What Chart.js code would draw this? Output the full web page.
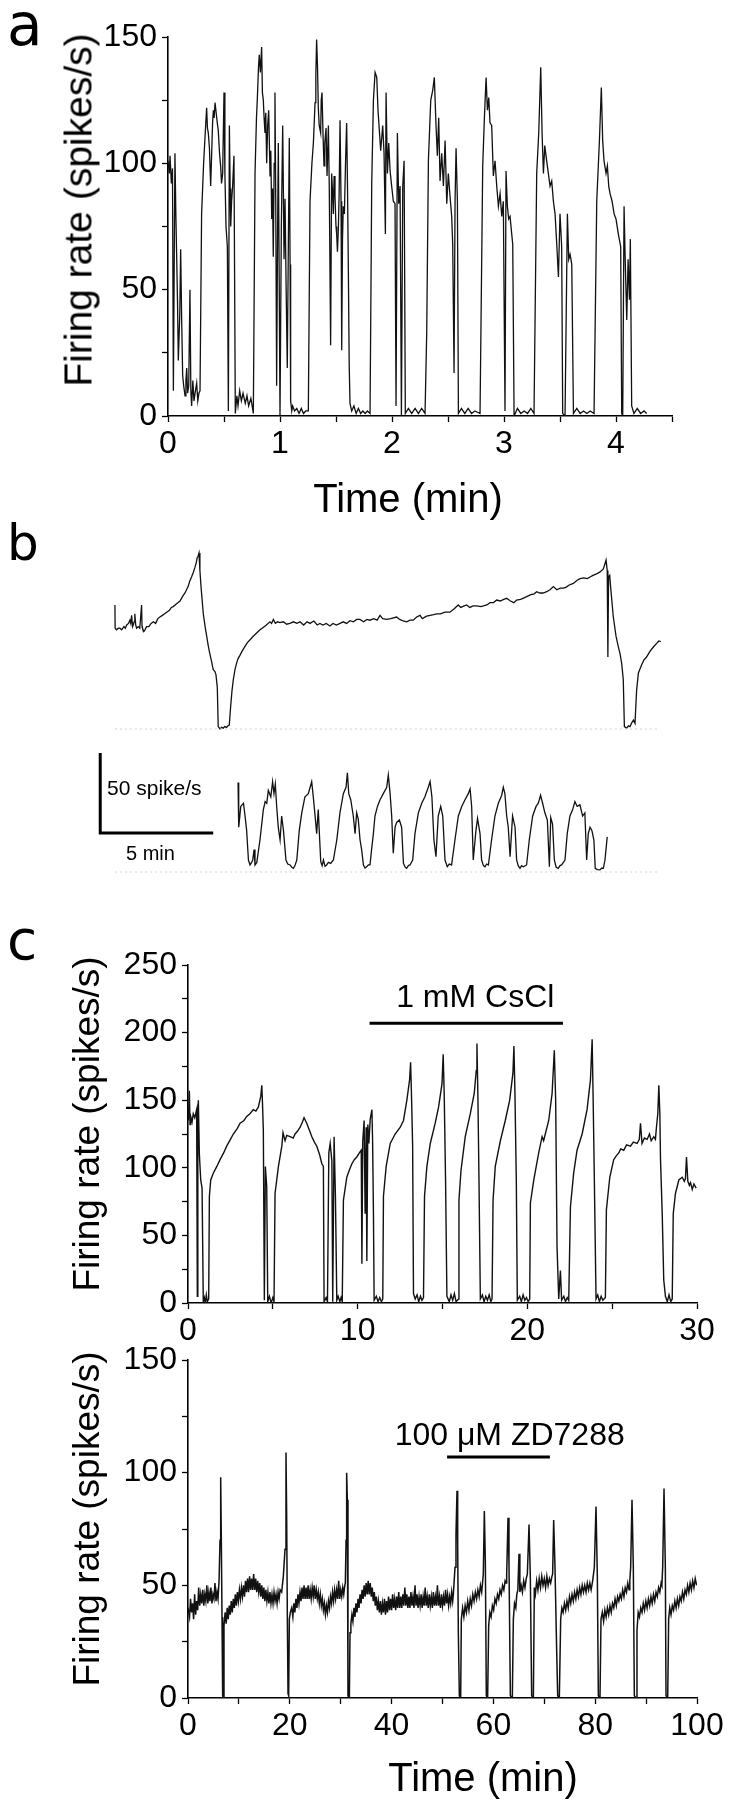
<!DOCTYPE html>
<html>
<head>
<meta charset="utf-8">
<script src="https://cdn.jsdelivr.net/npm/chart.js@4.4.1/dist/chart.umd.min.js"></script>
<style>
  body { margin: 0; background: #fff; }
  #page { position: relative; width: 740px; height: 1800px; overflow: hidden;
          font-family: "Liberation Sans", Arial, sans-serif; color: #000; }
  #page canvas { position: absolute; left: 0; }
  .panel { position: absolute; font-family: "DejaVu Sans", sans-serif; line-height: 1; }
  .title { position: absolute; white-space: nowrap; line-height: 1; transform: translate(-50%, -50%); }
  .title.vert { transform: translate(-50%, -50%) rotate(-90deg); }
</style>
</head>
<body>
<div id="page">
  <canvas id="chart-a" width="740" height="525" style="top:0px"></canvas>
  <canvas id="chart-b1" width="740" height="200" style="top:540px"></canvas>
  <canvas id="chart-b2" width="740" height="150" style="top:740px"></canvas>
  <canvas id="chart-c1" width="740" height="450" style="top:900px"></canvas>
  <canvas id="chart-c2" width="740" height="465" style="top:1335px"></canvas>

  <div class="panel" style="left:7px;top:-4px;font-size:58px">a</div>
  <div class="panel" style="left:7px;top:518px;font-size:50px">b</div>
  <div class="panel" style="left:7px;top:913px;font-size:55px">c</div>

  <div class="title vert" style="left:78px;top:210px;font-size:39px">Firing rate (spikes/s)</div>
  <div class="title" style="left:408px;top:498px;font-size:40px">Time (min)</div>
  <div class="title vert" style="left:86px;top:1124px;font-size:37px">Firing rate (spikes/s)</div>
  <div class="title vert" style="left:86px;top:1519px;font-size:37px">Firing rate (spikes/s)</div>
  <div class="title" style="left:483px;top:1777px;font-size:40px">Time (min)</div>
</div>
<script>
// panel a: [time (min), rate (spikes/s)]
const traceA = [
  [0, 101], [0.012, 96], [0.018, 103], [0.03, 92], [0.04, 98], [0.048, 10], [0.062, 104], [0.07, 80], [0.077, 64], [0.085, 45],
  [0.092, 22], [0.105, 40], [0.113, 66], [0.122, 38], [0.131, 16], [0.14, 12], [0.152, 8], [0.16, 14], [0.167, 19], [0.175, 9],
  [0.185, 12], [0.196, 50], [0.204, 10], [0.211, 4], [0.222, 14], [0.232, 6], [0.245, 10], [0.256, 13], [0.266, 6], [0.276, 9],
  [0.286, 10], [0.3, 80], [0.318, 100], [0.33, 110], [0.345, 122], [0.352, 114], [0.36, 112], [0.37, 106], [0.381, 91], [0.39, 104],
  [0.398, 116], [0.405, 121], [0.412, 118], [0.42, 124], [0.43, 120], [0.44, 116], [0.449, 113], [0.46, 104], [0.47, 99], [0.478, 92],
  [0.488, 96], [0.5, 128], [0.508, 96], [0.518, 75], [0.53, 67], [0.539, 2], [0.548, 115], [0.555, 90], [0.56, 75], [0.568, 85],
  [0.577, 91], [0.589, 103], [0.601, 1], [0.615, 8], [0.625, 4], [0.64, 10], [0.655, 6], [0.67, 9], [0.69, 5], [0.705, 8],
  [0.72, 4], [0.74, 7], [0.755, 3], [0.762, 1], [0.777, 96], [0.79, 118], [0.798, 126], [0.808, 138], [0.815, 143], [0.825, 136],
  [0.836, 146], [0.843, 128], [0.851, 125], [0.858, 118], [0.866, 112], [0.873, 120], [0.881, 100], [0.89, 115], [0.899, 121], [0.905, 108],
  [0.911, 95], [0.918, 105], [0.926, 78], [0.933, 90], [0.94, 63], [0.948, 100], [0.955, 128], [0.962, 85], [0.97, 12], [0.978, 70],
  [0.985, 108], [0.992, 60], [1.0, 0], [1.012, 75], [1.024, 115], [1.03, 90], [1.036, 62], [1.045, 86], [1.055, 50], [1.065, 19],
  [1.075, 70], [1.083, 110], [1.09, 60], [1.095, 6], [1.105, 2], [1.113, 4], [1.13, 2], [1.15, 3], [1.17, 1], [1.19, 3],
  [1.21, 1], [1.23, 2], [1.253, 2], [1.268, 85], [1.285, 100], [1.298, 108], [1.313, 124], [1.32, 135], [1.327, 149], [1.335, 138],
  [1.342, 122], [1.35, 115], [1.363, 112], [1.368, 125], [1.375, 128], [1.385, 110], [1.393, 99], [1.4, 108], [1.411, 114], [1.42, 95],
  [1.432, 115], [1.44, 90], [1.452, 28], [1.461, 96], [1.47, 88], [1.476, 80], [1.483, 95], [1.491, 87], [1.5, 75], [1.506, 72],
  [1.513, 65], [1.521, 74], [1.528, 88], [1.536, 117], [1.545, 85], [1.551, 26], [1.558, 70], [1.565, 83], [1.575, 80], [1.585, 100],
  [1.595, 116], [1.603, 90], [1.61, 59], [1.618, 20], [1.625, 5], [1.64, 2], [1.66, 4], [1.68, 1], [1.7, 3], [1.72, 1],
  [1.74, 2], [1.76, 1], [1.78, 2], [1.804, 1], [1.819, 92], [1.834, 125], [1.849, 136], [1.864, 134], [1.875, 121], [1.887, 113],
  [1.899, 105], [1.917, 115], [1.929, 104], [1.941, 72], [1.947, 128], [1.959, 96], [1.971, 108], [1.983, 97], [1.997, 91], [2.012, 85],
  [2.027, 84], [2.036, 4], [2.048, 112], [2.06, 84], [2.072, 91], [2.084, 0], [2.096, 91], [2.108, 101], [2.119, 1], [2.146, 3],
  [2.176, 1], [2.206, 3], [2.236, 1], [2.265, 3], [2.295, 1], [2.31, 33], [2.325, 101], [2.346, 125], [2.364, 129], [2.378, 134],
  [2.393, 115], [2.405, 103], [2.417, 118], [2.429, 93], [2.444, 104], [2.459, 91], [2.474, 109], [2.489, 84], [2.503, 96], [2.518, 87],
  [2.533, 79], [2.542, 68], [2.554, 17], [2.563, 85], [2.572, 106], [2.584, 85], [2.593, 1], [2.62, 3], [2.65, 1], [2.68, 3],
  [2.71, 1], [2.74, 2], [2.786, 1], [2.81, 99], [2.825, 118], [2.84, 134], [2.852, 121], [2.864, 126], [2.875, 116], [2.89, 115],
  [2.905, 95], [2.92, 101], [2.935, 91], [2.95, 83], [2.965, 88], [2.98, 79], [2.994, 85], [3.009, 2], [3.018, 97], [3.03, 83],
  [3.042, 78], [3.054, 79], [3.069, 72], [3.078, 68], [3.09, 0], [3.12, 3], [3.15, 1], [3.18, 2], [3.21, 1], [3.24, 3],
  [3.268, 1], [3.292, 96], [3.31, 112], [3.328, 138], [3.34, 112], [3.352, 96], [3.364, 107], [3.381, 101], [3.396, 96], [3.411, 91],
  [3.426, 93], [3.441, 85], [3.456, 80], [3.471, 68], [3.486, 55], [3.5, 80], [3.515, 67], [3.524, 1], [3.545, 0], [3.566, 80],
  [3.578, 62], [3.59, 64], [3.605, 60], [3.62, 1], [3.65, 3], [3.68, 1], [3.71, 2], [3.74, 1], [3.77, 2], [3.804, 1],
  [3.828, 85], [3.852, 109], [3.869, 130], [3.881, 109], [3.893, 101], [3.911, 96], [3.923, 99], [3.935, 91], [3.947, 88], [3.965, 85],
  [3.983, 80], [4.0, 78], [4.021, 72], [4.042, 67], [4.051, 1], [4.06, 0], [4.072, 83], [4.081, 64], [4.096, 38], [4.108, 62],
  [4.12, 46], [4.128, 70], [4.14, 4], [4.16, 1], [4.19, 3], [4.22, 1], [4.25, 2], [4.274, 1]
];

// panel b, upper trace: [time (min), rate (spikes/s)]
const traceB1 = [
  [0, 77.5], [0.01, 63], [0.07, 62], [0.15, 63], [0.22, 63], [0.3, 62], [0.4, 64], [0.46, 63], [0.52, 65], [0.6, 66],
  [0.66, 68], [0.7, 66], [0.74, 71], [0.78, 64], [0.81, 65], [0.85, 67], [0.88, 72], [0.92, 65], [0.96, 63], [1.03, 64],
  [1.1, 63], [1.18, 77.5], [1.2, 64], [1.22, 63], [1.28, 61], [1.33, 62], [1.4, 64], [1.5, 64], [1.6, 66], [1.7, 67],
  [1.8, 66], [1.9, 69], [1.99, 70], [2.1, 71], [2.2, 72], [2.29, 73], [2.4, 74], [2.5, 76], [2.58, 76.5], [2.7, 78],
  [2.8, 79], [2.88, 80], [3.0, 83], [3.1, 85], [3.2, 88], [3.24, 89], [3.3, 92], [3.39, 95], [3.47, 98], [3.54, 101],
  [3.6, 104], [3.64, 107], [3.68, 108], [3.72, 110], [3.76, 99], [3.81, 89], [3.91, 72], [4.0, 63], [4.06, 58], [4.13, 52],
  [4.2, 47], [4.28, 42], [4.35, 37], [4.42, 36], [4.47, 34], [4.53, 26], [4.57, 1.5], [4.65, 0], [4.72, 1], [4.79, 0.5],
  [4.86, 1.5], [4.94, 1], [5.0, 2], [5.06, 2.5], [5.12, 14], [5.18, 24], [5.24, 31], [5.31, 37], [5.38, 41], [5.45, 44],
  [5.53, 46], [5.64, 49], [5.75, 51.5], [5.86, 54], [5.97, 55.6], [6.12, 58], [6.27, 60], [6.42, 62], [6.56, 63.5], [6.7, 65],
  [6.86, 67], [6.93, 66], [7.01, 68.5], [7.1, 66], [7.2, 67], [7.3, 66.5], [7.45, 67], [7.6, 65.5], [7.74, 66], [7.9, 67],
  [8.05, 66], [8.19, 67], [8.35, 65], [8.5, 67], [8.63, 66], [8.8, 67.5], [8.95, 65], [9.07, 66], [9.2, 65], [9.35, 66],
  [9.51, 64.4], [9.65, 66], [9.8, 65], [9.96, 66], [10.1, 67], [10.25, 66], [10.4, 67.7], [10.55, 67], [10.7, 68.5], [10.84, 68.5],
  [11.0, 67], [11.15, 68.5], [11.28, 68], [11.45, 69], [11.6, 68], [11.73, 71], [11.85, 69], [12.02, 68.5], [12.2, 69], [12.46, 70],
  [12.6, 68.5], [12.75, 67.5], [12.91, 67], [13.05, 68], [13.2, 68], [13.35, 70], [13.5, 71], [13.6, 69], [13.79, 70.5], [13.95, 71],
  [14.1, 71.5], [14.23, 72], [14.4, 72], [14.6, 73], [14.82, 73], [15.0, 75], [15.19, 77.5], [15.3, 76], [15.45, 77], [15.56, 77.5],
  [15.7, 76], [15.85, 77], [16.0, 77], [16.2, 76.5], [16.45, 77.5], [16.6, 79], [16.75, 79], [16.89, 80.6], [17.05, 80], [17.2, 81],
  [17.33, 81.7], [17.5, 80], [17.65, 79], [17.77, 80.6], [17.95, 81], [18.1, 82], [18.22, 82.7], [18.4, 84], [18.55, 84.5], [18.66, 85.8],
  [18.8, 85], [18.95, 85], [19.1, 85.8], [19.25, 87], [19.4, 89], [19.55, 87], [19.7, 88], [19.84, 88], [19.95, 88.5], [20.1, 90],
  [20.28, 91], [20.45, 93], [20.58, 94], [20.75, 94.5], [20.9, 94], [21.02, 95], [21.15, 96], [21.31, 97], [21.45, 98], [21.61, 100],
  [21.73, 105.6], [21.78, 99], [21.81, 45], [21.84, 95], [21.89, 96], [21.93, 89], [22.05, 70], [22.17, 58], [22.27, 51.5], [22.35, 47],
  [22.42, 41], [22.49, 31], [22.54, 1.5], [22.64, 0.5], [22.72, 2], [22.79, 1.5], [22.87, 4], [22.94, 5.6], [23.01, 3.5], [23.08, 24],
  [23.16, 35], [23.3, 40], [23.4, 43], [23.52, 45], [23.65, 48], [23.75, 50], [23.87, 52], [23.97, 53.5], [24.06, 55], [24.15, 54.6]
];

// panel b, lower trace: [time (min), rate (spikes/s)]
const traceB2 = [
  [0, 56], [0.03, 28], [0.12, 41], [0.24, 43], [0.31, 35], [0.38, 26], [0.46, 7.5], [0.53, 4.4], [0.6, 6], [0.65, 7.5],
  [0.71, 14], [0.75, 4.4], [0.83, 6], [0.97, 20], [1.12, 39], [1.2, 44], [1.27, 43], [1.34, 51], [1.45, 47], [1.53, 56.5],
  [1.59, 49], [1.65, 55], [1.71, 41], [1.78, 28], [1.86, 20], [1.93, 35], [2.01, 26], [2.12, 7.5], [2.2, 5], [2.3, 4.4],
  [2.38, 3], [2.45, 2.3], [2.52, 4], [2.6, 7.5], [2.71, 26], [2.82, 37], [2.96, 47], [3.11, 49], [3.19, 53], [3.26, 56.5],
  [3.33, 47], [3.41, 35], [3.48, 24], [3.55, 39], [3.6, 24], [3.66, 6.5], [3.72, 4], [3.78, 7.5], [3.85, 3.5], [3.92, 4.4],
  [4.0, 6], [4.1, 5.4], [4.22, 7.5], [4.37, 20], [4.51, 37], [4.66, 49], [4.78, 53], [4.84, 62], [4.9, 49], [4.99, 45],
  [5.1, 35], [5.18, 24], [5.25, 37], [5.32, 33], [5.4, 20], [5.47, 14], [5.55, 4.4], [5.62, 2.5], [5.69, 3.3], [5.77, 4.4],
  [5.84, 4.4], [5.91, 14], [5.99, 24], [6.06, 35], [6.17, 41], [6.28, 45], [6.43, 49], [6.58, 53], [6.65, 60.6], [6.73, 49],
  [6.8, 35], [6.87, 11.7], [6.95, 28], [7.02, 31], [7.14, 32.5], [7.24, 28], [7.32, 5.4], [7.4, 3], [7.46, 2.3], [7.54, 4],
  [7.61, 4.4], [7.73, 7.5], [7.83, 24], [7.98, 37], [8.13, 43], [8.27, 47], [8.42, 53], [8.5, 56.5], [8.58, 47], [8.67, 20],
  [8.76, 9.6], [8.86, 35], [8.97, 41], [9.06, 35], [9.16, 7.5], [9.26, 3.3], [9.35, 5], [9.45, 4.4], [9.6, 20], [9.75, 35],
  [9.9, 41], [10.04, 45], [10.19, 49], [10.27, 52], [10.34, 41], [10.41, 7.5], [10.53, 26], [10.6, 33.5], [10.71, 24], [10.78, 7.5],
  [10.86, 4], [10.93, 3.3], [11.0, 5], [11.08, 4.4], [11.22, 20], [11.37, 35], [11.52, 43], [11.67, 48], [11.74, 53], [11.81, 49],
  [11.89, 35], [11.96, 28], [12.04, 9.6], [12.15, 35], [12.26, 28], [12.33, 7.5], [12.4, 4], [12.48, 2.3], [12.55, 4], [12.63, 3.3],
  [12.77, 4.4], [12.89, 20], [13.04, 35], [13.19, 41], [13.29, 43], [13.39, 48], [13.48, 43], [13.58, 37], [13.69, 32.5], [13.78, 3.3],
  [13.84, 34], [13.92, 30], [14.0, 7.5], [14.08, 3], [14.17, 2.3], [14.25, 4], [14.32, 4.4], [14.47, 7.5], [14.57, 24], [14.69, 35],
  [14.81, 39], [14.91, 44], [15.01, 41], [15.13, 42], [15.25, 35], [15.35, 37], [15.43, 7.5], [15.5, 24], [15.58, 28], [15.66, 26],
  [15.75, 20], [15.81, 2.3], [15.9, 1.5], [16.02, 1.3], [16.1, 2.5], [16.17, 2.3], [16.24, 7.5], [16.34, 22]
];

// panel c, 1 mM CsCl: [time (min), rate (spikes/s)]
const traceC1 = [
  [0.02, 135], [0.08, 157], [0.12, 132], [0.16, 138], [0.24, 134], [0.31, 140], [0.4, 137], [0.51, 143], [0.55, 5], [0.58, 140],
  [0.61, 150], [0.67, 110], [0.75, 91], [0.83, 85], [0.9, 1], [0.96, 4], [1.02, 0], [1.08, 6], [1.14, 1], [1.22, 3],
  [1.26, 79], [1.34, 91], [1.49, 96], [1.7, 101], [1.89, 106], [2.1, 111], [2.28, 116], [2.5, 121], [2.67, 125], [2.9, 129],
  [3.07, 133], [3.3, 135], [3.46, 138], [3.65, 140], [3.85, 143], [4.0, 142], [4.15, 145], [4.29, 153], [4.35, 161], [4.39, 148],
  [4.44, 128], [4.5, 2], [4.56, 101], [4.64, 86], [4.7, 1], [4.8, 5], [4.9, 0], [5.0, 4], [5.07, 1], [5.13, 81],
  [5.33, 101], [5.53, 116], [5.6, 126], [5.72, 120], [5.82, 124], [6.02, 123], [6.2, 122], [6.31, 125], [6.45, 127], [6.61, 130],
  [6.75, 134], [6.84, 137], [7.0, 133], [7.15, 128], [7.3, 123], [7.45, 119], [7.59, 116], [7.75, 110], [7.89, 103], [7.98, 101],
  [8.02, 1], [8.14, 4], [8.22, 1], [8.3, 111], [8.38, 118], [8.48, 105], [8.53, 1], [8.61, 123], [8.69, 79], [8.77, 2],
  [8.85, 5], [8.95, 1], [9.02, 4], [9.09, 1], [9.16, 76], [9.36, 93], [9.5, 98], [9.66, 103], [9.8, 106], [9.95, 108],
  [10.1, 111], [10.21, 113], [10.25, 29], [10.3, 120], [10.38, 135], [10.44, 66], [10.5, 130], [10.54, 31], [10.6, 132], [10.66, 118],
  [10.74, 136], [10.84, 143], [10.88, 120], [10.93, 66], [10.97, 2], [11.1, 5], [11.2, 1], [11.3, 4], [11.4, 1], [11.48, 3],
  [11.52, 79], [11.68, 101], [11.92, 118], [12.21, 125], [12.51, 130], [12.7, 135], [12.9, 150], [13.06, 165], [13.12, 178], [13.18, 150],
  [13.24, 116], [13.29, 7], [13.39, 3], [13.5, 6], [13.6, 1], [13.7, 5], [13.79, 2], [13.88, 4], [13.94, 79], [14.08, 101],
  [14.28, 118], [14.57, 133], [14.77, 145], [14.97, 162], [15.04, 184], [15.1, 155], [15.18, 91], [15.26, 5], [15.4, 1], [15.5, 6],
  [15.6, 2], [15.7, 7], [15.8, 1], [15.95, 3], [15.97, 76], [16.09, 98], [16.34, 123], [16.64, 140], [16.87, 155], [16.99, 172],
  [17.03, 192], [17.09, 150], [17.15, 91], [17.23, 3], [17.35, 6], [17.45, 1], [17.55, 5], [17.65, 2], [17.75, 6], [17.85, 1],
  [17.92, 3], [17.98, 76], [18.11, 101], [18.41, 120], [18.7, 135], [18.96, 150], [19.15, 170], [19.21, 190], [19.27, 155], [19.35, 91],
  [19.41, 2], [19.55, 5], [19.65, 1], [19.75, 6], [19.85, 2], [19.95, 4], [20.05, 1], [20.14, 3], [20.18, 74], [20.38, 91],
  [20.67, 111], [20.87, 123], [20.96, 120], [21.06, 125], [21.26, 135], [21.46, 155], [21.59, 187], [21.67, 150], [21.75, 42], [21.85, 3],
  [21.95, 24], [22.02, 2], [22.15, 5], [22.25, 1], [22.35, 4], [22.44, 2], [22.54, 71], [22.73, 96], [22.93, 113], [23.23, 125],
  [23.52, 143], [23.72, 165], [23.82, 195], [23.88, 150], [23.95, 91], [24.05, 3], [24.15, 6], [24.25, 1], [24.35, 5], [24.45, 2],
  [24.6, 4], [24.66, 69], [24.86, 93], [25.09, 106], [25.25, 109], [25.39, 111], [25.5, 114], [25.68, 113], [25.85, 117], [26.08, 116],
  [26.25, 119], [26.47, 118], [26.6, 121], [26.67, 133], [26.76, 118], [26.9, 122], [27.06, 121], [27.2, 125], [27.3, 120], [27.45, 123],
  [27.55, 121], [27.61, 130], [27.69, 140], [27.75, 161], [27.81, 140], [27.85, 106], [27.95, 66], [28.04, 17], [28.14, 5], [28.25, 1],
  [28.35, 6], [28.45, 1], [28.54, 3], [28.6, 66], [28.73, 81], [28.93, 91], [29.13, 93], [29.25, 90], [29.32, 92], [29.38, 108],
  [29.46, 90], [29.55, 87], [29.62, 89], [29.72, 84], [29.82, 88], [29.95, 85]
];

// panel c, 100 uM ZD7288: [time (min), rate (spikes/s)]
const traceC2 = [
  [0, 40], [0.3, 36], [0.5, 44], [0.7, 38], [0.9, 42], [1.1, 35], [1.3, 46], [1.5, 37], [1.7, 43], [1.9, 39],
  [2.1, 49], [2.3, 41], [2.5, 46], [2.7, 42], [2.9, 48], [3.1, 41], [3.3, 46], [3.5, 43], [3.7, 50], [3.9, 42],
  [4.1, 47], [4.3, 43], [4.5, 49], [4.7, 42], [4.9, 46], [5.1, 44], [5.3, 51], [5.5, 43], [5.7, 47], [5.9, 44],
  [6.1, 52], [6.29, 70], [6.42, 98], [6.55, 70], [6.68, 36], [6.81, 1], [6.94, 0], [7.07, 32], [7.3, 38], [7.5, 33],
  [7.7, 40], [7.9, 35], [8.1, 41], [8.3, 37], [8.5, 43], [8.7, 38], [8.9, 44], [9.1, 40], [9.3, 46], [9.5, 41],
  [9.7, 47], [9.9, 43], [10.1, 48], [10.3, 44], [10.5, 49], [10.7, 45], [10.9, 50], [11.1, 45], [11.3, 52], [11.5, 47],
  [11.7, 53], [11.9, 47], [12.1, 54], [12.3, 48], [12.5, 53], [12.7, 48], [12.9, 55], [13.1, 48], [13.3, 53], [13.5, 47],
  [13.7, 52], [13.9, 47], [14.1, 51], [14.3, 45], [14.5, 50], [14.7, 44], [14.9, 49], [15.1, 43], [15.3, 48], [15.5, 43],
  [15.7, 47], [15.9, 42], [16.1, 47], [16.3, 42], [16.5, 46], [16.7, 42], [16.9, 47], [17.1, 43], [17.3, 46], [17.5, 42],
  [17.7, 47], [17.9, 44], [18.1, 48], [18.4, 47], [18.73, 54], [19.06, 66], [19.25, 109], [19.38, 82], [19.52, 35], [19.65, 2],
  [19.78, 1], [19.91, 35], [20.1, 38], [20.37, 40], [20.6, 36], [20.8, 42], [21.0, 38], [21.2, 44], [21.4, 40], [21.6, 46],
  [21.8, 42], [22.0, 47], [22.2, 43], [22.4, 49], [22.6, 44], [22.8, 50], [23.0, 44], [23.2, 49], [23.4, 44], [23.6, 50],
  [23.8, 44], [24.0, 48], [24.2, 44], [24.4, 49], [24.6, 45], [24.8, 50], [25.0, 44], [25.2, 48], [25.4, 44], [25.6, 47],
  [25.8, 42], [26.0, 46], [26.2, 41], [26.4, 44], [26.6, 39], [26.8, 42], [27.0, 37], [27.2, 41], [27.4, 38], [27.6, 43],
  [27.8, 40], [28.0, 45], [28.2, 42], [28.4, 47], [28.6, 43], [28.8, 48], [29.0, 44], [29.2, 48], [29.4, 44], [29.6, 52],
  [29.8, 44], [30.0, 48], [30.2, 45], [30.4, 49], [30.6, 46], [30.8, 50], [30.91, 51], [31.05, 70], [31.17, 100], [31.3, 88],
  [31.43, 1], [31.7, 0], [31.83, 29], [32.0, 33], [32.2, 37], [32.4, 34], [32.6, 40], [32.8, 36], [33.0, 42], [33.2, 38],
  [33.4, 44], [33.6, 40], [33.8, 46], [34.0, 42], [34.2, 48], [34.4, 44], [34.6, 50], [34.8, 45], [35.0, 51], [35.2, 46],
  [35.4, 52], [35.6, 46], [35.8, 51], [36.0, 45], [36.2, 49], [36.4, 43], [36.6, 47], [36.8, 41], [37.0, 45], [37.2, 39],
  [37.4, 43], [37.6, 38], [37.8, 43], [38.0, 37], [38.2, 42], [38.4, 38], [38.6, 44], [38.8, 37], [39.0, 43], [39.2, 38],
  [39.4, 45], [39.6, 39], [39.8, 44], [40.0, 39], [40.2, 46], [40.4, 40], [40.6, 44], [40.8, 39], [41.0, 45], [41.2, 40],
  [41.4, 47], [41.6, 40], [41.8, 45], [42.0, 40], [42.2, 46], [42.4, 41], [42.6, 49], [42.8, 41], [43.0, 46], [43.2, 40],
  [43.4, 45], [43.6, 40], [43.8, 47], [44.0, 41], [44.2, 45], [44.4, 40], [44.6, 50], [44.8, 41], [45.0, 46], [45.2, 40],
  [45.4, 45], [45.6, 41], [45.8, 46], [46.0, 40], [46.2, 45], [46.4, 41], [46.6, 49], [46.8, 41], [47.0, 45], [47.2, 40],
  [47.4, 46], [47.6, 41], [47.8, 45], [48.0, 40], [48.2, 47], [48.4, 41], [48.6, 45], [48.8, 41], [49.0, 50], [49.2, 41],
  [49.4, 45], [49.6, 40], [49.8, 46], [50.0, 41], [50.2, 45], [50.4, 41], [50.6, 48], [50.8, 42], [51.0, 46], [51.2, 41],
  [51.4, 45], [51.6, 42], [51.8, 47], [52.0, 43], [52.13, 46], [52.46, 58], [52.65, 73], [52.85, 92], [52.98, 68], [53.11, 29],
  [53.31, 1], [53.57, 0], [53.7, 35], [53.95, 40], [54.2, 36], [54.45, 41], [54.7, 38], [54.95, 43], [55.2, 39], [55.45, 44],
  [55.7, 41], [55.95, 46], [56.2, 43], [56.45, 47], [56.7, 44], [56.95, 48], [57.2, 45], [57.45, 50], [57.7, 47], [57.9, 52],
  [58.02, 55], [58.22, 83], [58.42, 60], [58.61, 1], [58.87, 0], [59.07, 32], [59.3, 38], [59.55, 36], [59.8, 41], [60.05, 39],
  [60.3, 44], [60.55, 42], [60.8, 46], [61.05, 44], [61.3, 48], [61.55, 46], [61.8, 50], [62.05, 48], [62.3, 52], [62.5, 51],
  [62.61, 55], [62.87, 80], [63.06, 60], [63.33, 1], [63.72, 0], [63.92, 35], [64.15, 42], [64.4, 40], [64.6, 46], [64.8, 48],
  [65.03, 64], [65.2, 47], [65.45, 50], [65.7, 47], [65.95, 52], [66.2, 49], [66.45, 53], [66.67, 55], [67.0, 77], [67.26, 53],
  [67.52, 1], [67.85, 0], [68.04, 49], [68.25, 46], [68.5, 52], [68.75, 48], [69.0, 53], [69.25, 49], [69.5, 54], [69.75, 50],
  [70.0, 53], [70.25, 49], [70.5, 54], [70.75, 50], [71.0, 53], [71.25, 51], [71.5, 54], [71.64, 55], [71.84, 79], [72.1, 58],
  [72.43, 21], [72.63, 1], [72.95, 0], [73.22, 35], [73.45, 40], [73.7, 38], [73.95, 42], [74.2, 39], [74.45, 43], [74.7, 40],
  [74.95, 45], [75.2, 42], [75.45, 46], [75.7, 43], [75.95, 47], [76.2, 44], [76.45, 48], [76.7, 45], [76.95, 49], [77.2, 46],
  [77.45, 50], [77.7, 47], [77.95, 50], [78.2, 47], [78.45, 51], [78.7, 48], [78.95, 51], [79.2, 48], [79.5, 52], [79.83, 58],
  [80.16, 85], [80.42, 54], [80.62, 1], [80.94, 0], [81.14, 35], [81.4, 38], [81.65, 34], [81.9, 39], [82.15, 36], [82.4, 40],
  [82.65, 37], [82.9, 41], [83.15, 38], [83.4, 42], [83.65, 40], [83.9, 44], [84.15, 41], [84.4, 45], [84.65, 43], [84.9, 46],
  [85.15, 44], [85.4, 48], [85.65, 45], [85.9, 49], [86.15, 47], [86.4, 51], [86.65, 48], [86.8, 52], [86.97, 58], [87.23, 88],
  [87.49, 58], [87.69, 1], [88.02, 0], [88.21, 30], [88.45, 38], [88.7, 36], [88.95, 40], [89.2, 38], [89.45, 42], [89.7, 39],
  [89.95, 43], [90.2, 40], [90.45, 44], [90.7, 41], [90.95, 45], [91.2, 42], [91.45, 46], [91.7, 43], [91.95, 47], [92.2, 45],
  [92.45, 49], [92.7, 47], [92.95, 51], [93.1, 50], [93.26, 58], [93.52, 93], [93.78, 58], [93.91, 1], [94.24, 0], [94.43, 35],
  [94.65, 40], [94.9, 37], [95.15, 41], [95.4, 39], [95.65, 43], [95.9, 40], [96.15, 44], [96.4, 41], [96.65, 45], [96.9, 43],
  [97.15, 47], [97.4, 44], [97.65, 48], [97.9, 46], [98.15, 50], [98.4, 47], [98.65, 51], [98.9, 48], [99.15, 52], [99.4, 49],
  [99.65, 53], [99.93, 50]
];

// drug application bars: [start, end] in min, level in spikes/s
const cscBar = [10.7, 22.1];
const cscBarLevel = 207;
const zdBar = [50.9, 71.1];
const zdBarLevel = 107;

// panel b scale bar: corner [min, spikes/s] and lengths [5 min, 50 spike/s]
const scaleBarCorner = [-6.1, 24.4];
const scaleBarSize = [5, 50];
// zero-rate reference lines of panel b, [start, end] in min
const zeroLineB1 = [0, 23.98];
const zeroLineB2 = [-5.44, 18.67];

const TICK_FONT = { family: "Liberation Sans", size: 32 };

function toXY(pairs) {
  return pairs.map((p) => ({ x: p[0], y: p[1] }));
}

function traceSet(pairs, width) {
  return {
    data: toXY(pairs),
    borderColor: "#111",
    borderWidth: width || 1.3,
    pointRadius: 0,
    tension: 0,
    fill: false,
  };
}

function segmentSet(points, width, color, dash) {
  return {
    data: points.map((p) => ({ x: p[0], y: p[1] })),
    borderColor: color || "#000",
    borderWidth: width,
    borderDash: dash || [],
    pointRadius: 0,
    tension: 0,
    fill: false,
    clip: false,
  };
}

// writes short labels at data positions
const textLabels = {
  id: "textLabels",
  afterDatasetsDraw(chart, args, opts) {
    const { ctx, scales } = chart;
    (opts.items || []).forEach((it) => {
      ctx.save();
      ctx.font = it.font;
      ctx.fillStyle = "#000";
      ctx.textAlign = it.align || "center";
      ctx.textBaseline = "alphabetic";
      ctx.fillText(it.text, scales.x.getPixelForValue(it.x), scales.y.getPixelForValue(it.y));
      ctx.restore();
    });
  },
};

function axis(min, max, step, every, size, dim, pad) {
  return {
    type: "linear",
    min: min,
    max: max,
    ticks: {
      stepSize: step,
      autoSkip: false,
      maxRotation: 0,
      padding: pad,
      color: "#000",
      font: TICK_FONT,
      callback: (v) => (Math.abs(v / every - Math.round(v / every)) < 1e-6 ? v : ""),
    },
    grid: {
      drawOnChartArea: false,
      drawTicks: true,
      tickLength: 6,
      tickWidth: 1.3,
      color: "#000",
    },
    border: { display: true, color: "#000", width: 1.6 },
    afterFit: (scale) => {
      scale[dim] = size;
    },
  };
}

function baseOptions(padding, scales, items) {
  return {
    responsive: false,
    animation: false,
    devicePixelRatio: 1,
    events: [],
    layout: { padding: padding },
    scales: scales,
    plugins: {
      legend: { display: false },
      tooltip: { enabled: false },
      textLabels: { items: items || [] },
    },
  };
}

function hiddenAxis(min, max) {
  return { type: "linear", min: min, max: max, display: false };
}

function createPanelA() {
  new Chart(document.getElementById("chart-a"), {
    type: "line",
    data: { datasets: [traceSet(traceA, 1.3)] },
    options: baseOptions(
      { left: 0, right: 68, top: 37, bottom: 59 },
      {
        x: axis(0, 4.5, 0.5, 1, 50, "height", 3),
        y: axis(0, 150, 25, 50, 168, "width", 5),
      }
    ),
    plugins: [textLabels],
  });
}

function createPanelB() {
  new Chart(document.getElementById("chart-b1"), {
    type: "line",
    data: {
      datasets: [
        segmentSet([[zeroLineB1[0], 0], [zeroLineB1[1], 0]], 1, "#d0d0d0", [2, 3]),
        traceSet(traceB1, 1.3),
      ],
    },
    options: baseOptions(
      { left: 100, right: 79, top: 5, bottom: 3 },
      { x: hiddenAxis(-0.66, 24.16), y: hiddenAxis(-5, 115) }
    ),
    plugins: [textLabels],
  });

  const cx = scaleBarCorner[0];
  const cy = scaleBarCorner[1];
  new Chart(document.getElementById("chart-b2"), {
    type: "line",
    data: {
      datasets: [
        segmentSet([[zeroLineB2[0], 0], [zeroLineB2[1], 0]], 1, "#d0d0d0", [2, 3]),
        traceSet(traceB2, 1.3),
        segmentSet([[cx, cy + scaleBarSize[1]], [cx, cy], [cx + scaleBarSize[0], cy]], 3),
      ],
    },
    options: baseOptions(
      { left: 100, right: 79, top: 5, bottom: 10 },
      { x: hiddenAxis(-6.11, 18.72), y: hiddenAxis(-5, 79.4) },
      [
        { text: "50 spike/s", x: -5.8, y: 48, font: "21px 'Liberation Sans'", align: "left" },
        { text: "5 min", x: -4.96, y: 7.5, font: "20px 'Liberation Sans'", align: "left" },
      ]
    ),
    plugins: [textLabels],
  });
}

function createPanelC() {
  new Chart(document.getElementById("chart-c1"), {
    type: "line",
    data: {
      datasets: [
        traceSet(traceC1, 1.4),
        segmentSet([[cscBar[0], cscBarLevel], [cscBar[1], cscBarLevel]], 3),
      ],
    },
    options: baseOptions(
      { left: 0, right: 43, top: 65, bottom: 2 },
      {
        x: axis(0, 30, 5, 10, 45, "height", 3),
        y: axis(0, 250, 25, 50, 188, "width", 5),
      },
      [{ text: "1 mM CsCl", x: 16.93, y: 219, font: "32px 'Liberation Sans'" }]
    ),
    plugins: [textLabels],
  });

  new Chart(document.getElementById("chart-c2"), {
    type: "line",
    data: {
      datasets: [
        traceSet(traceC2, 1.5),
        segmentSet([[zdBar[0], zdBarLevel], [zdBar[1], zdBarLevel]], 3),
      ],
    },
    options: baseOptions(
      { left: 0, right: 43, top: 25, bottom: 52 },
      {
        x: axis(0, 100, 10, 20, 50, "height", 3),
        y: axis(0, 150, 25, 50, 188, "width", 5),
      },
      [{ text: "100 \u03bcM ZD7288", x: 63.2, y: 112.3, font: "32px 'Liberation Sans'" }]
    ),
    plugins: [textLabels],
  });
}

window.onload = () => {
  createPanelA();
  createPanelB();
  createPanelC();
};
</script>
</body>
</html>
